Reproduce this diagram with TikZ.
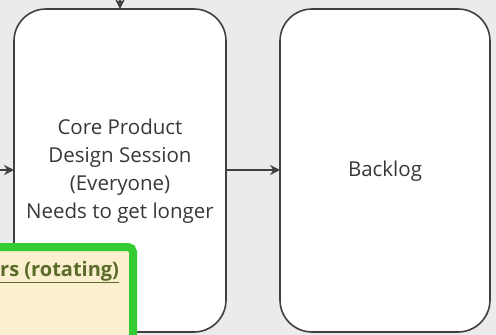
\documentclass[tikz,border=0pt]{standalone}
\usepackage{fontspec}
\setmainfont{Open Sans}
\usetikzlibrary{arrows.meta}
\definecolor{bg}{HTML}{EBEBEB}
\definecolor{boxline}{HTML}{404040}
\definecolor{noteline}{HTML}{33CC33}
\definecolor{notefill}{HTML}{FCEFCF}
\definecolor{notetext}{HTML}{5A6B2A}
\tikzset{
  x=1pt, y=-1pt,
  stage/.style={draw=boxline, line width=1.6pt, fill=white, rounded corners=32pt},
  flow/.style={draw=boxline, line width=1.4pt, -{Stealth[length=10pt,width=10pt]}},
  label/.style={font=\fontsize{20.5}{28}\selectfont, text=black!78, align=center}
}
\begin{document}
\begin{tikzpicture}
\useasboundingbox (0,0) rectangle (496,335);
\clip (0,0) rectangle (496,335);
\fill[bg] (0,0) rectangle (496,335);
% core box
\path[stage] (14,9) rectangle (226,332);
\node[label] (core) at (120,171) {Core Product\\Design Session\\(Everyone)\\Needs to get longer};
\coordinate (coreN) at (120,9);
\coordinate (coreW) at (14,170);
\coordinate (coreE) at (226,170);
% backlog
\path[stage] (280,9) rectangle (490,332);
\node[label] (backlog) at (385,171) {Backlog};
\coordinate (backW) at (280,170);
% connectors
\coordinate (topin) at (120,-8);
\coordinate (leftin) at (-5,170);
\draw[flow] (topin) -- (coreN);
\draw[flow] (leftin) -- (coreW);
\draw[flow] (coreE) -- (backW);
% note
\draw[draw=noteline, fill=notefill, line width=8pt, rounded corners=5pt] (-20,247) rectangle (133,350);
\node[anchor=west, font=\fontsize{20}{24}\selectfont\bfseries, text=notetext, inner sep=0pt] (note) at (0,272) {\underline{rs (rotating)}};
\end{tikzpicture}
\end{document}
